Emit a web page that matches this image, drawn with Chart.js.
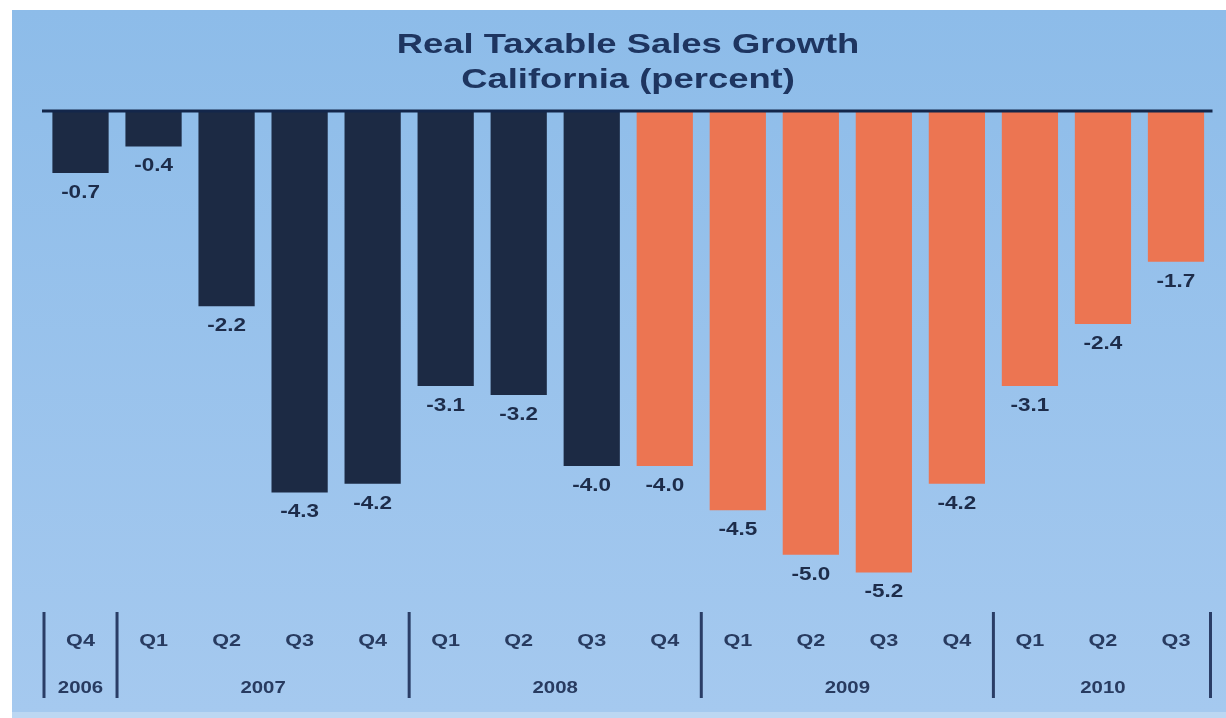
<!DOCTYPE html>
<html>
<head>
<meta charset="utf-8">
<title>Real Taxable Sales Growth</title>
<script src="https://cdn.jsdelivr.net/npm/chart.js@4"></script>
<style>
  html, body { margin: 0; padding: 0; background: #fff; }
  canvas { display: block; }
</style>
</head>
<body>
<canvas id="chart" width="1226" height="718"></canvas>
<script>
// quarters along the x axis, oldest first
const quarters = ['Q4','Q1','Q2','Q3','Q4','Q1','Q2','Q3','Q4','Q1','Q2','Q3','Q4','Q1','Q2','Q3'];
const growth   = [-0.7,-0.4,-2.2,-4.3,-4.2,-3.1,-3.2,-4.0,-4.0,-4.5,-5.0,-5.2,-4.2,-3.1,-2.4,-1.7];

// year groups under the quarter labels (first and last bar index of each)
const years     = ['2006','2007','2008','2009','2010'];
const yearFirst = [0, 1, 5, 9, 13];
const yearLast  = [0, 4, 8, 12, 15];

const titleLines = ['Real Taxable Sales Growth', 'California (percent)'];

// bars from index 8 on are drawn orange
const orangeFrom = 8;

const NAVY = '#1c2a44';
const ORANGE = '#ec7552';
const TEXT = '#1e3560';

// draws text stretched horizontally like the original scan
function wideText(ctx, txt, x, y, sx) {
  ctx.save();
  ctx.translate(x, y);
  ctx.scale(sx, 1);
  ctx.fillText(txt, 0, 0);
  ctx.restore();
}

const panelPlugin = {
  id: 'panel',
  beforeDraw(chart) {
    const ctx = chart.ctx;
    const g = ctx.createLinearGradient(0, 10, 0, 712);
    g.addColorStop(0, '#8dbce9');
    g.addColorStop(1, '#a5c9ef');
    ctx.save();
    ctx.fillStyle = '#bcd7f2';
    ctx.fillRect(12, 712, 1214, 6);
    ctx.fillStyle = g;
    ctx.fillRect(12, 10, 1214, 702);
    ctx.fillStyle = TEXT;
    ctx.textAlign = 'center';
    ctx.textBaseline = 'middle';
    ctx.font = 'bold 28px "Liberation Sans", Arial, sans-serif';
    wideText(ctx, titleLines[0], 628, 45, 1.3);
    wideText(ctx, titleLines[1], 628, 80, 1.3);
    ctx.restore();
  },
  afterDatasetsDraw(chart) {
    const ctx = chart.ctx;
    const x = chart.scales.x, y = chart.scales.y;
    const area = chart.chartArea;
    const zero = y.getPixelForValue(0);
    const step = x.getPixelForValue(1) - x.getPixelForValue(0);
    ctx.save();

    // zero line
    ctx.strokeStyle = '#13264a';
    ctx.lineWidth = 3;
    ctx.beginPath();
    ctx.moveTo(area.left - 2, zero);
    ctx.lineTo(area.right, zero);
    ctx.stroke();

    // value labels under each bar
    ctx.fillStyle = '#1d2c4a';
    ctx.textAlign = 'center';
    ctx.textBaseline = 'middle';
    ctx.font = 'bold 18px "Liberation Sans", Arial, sans-serif';
    chart.getDatasetMeta(0).data.forEach((bar, i) => {
      wideText(ctx, growth[i].toFixed(1), bar.x, bar.y + 20, 1.25);
    });

    // quarter labels
    ctx.fillStyle = '#283b60';
    ctx.font = 'bold 16px "Liberation Sans", Arial, sans-serif';
    quarters.forEach((q, i) => {
      wideText(ctx, q, x.getPixelForValue(i), 642, 1.35);
    });

    // year labels and separators
    ctx.strokeStyle = '#2a3d66';
    ctx.lineWidth = 3;
    ctx.font = 'bold 17px "Liberation Sans", Arial, sans-serif';
    years.forEach((yr, k) => {
      const cx = (x.getPixelForValue(yearFirst[k]) + x.getPixelForValue(yearLast[k])) / 2;
      wideText(ctx, yr, cx, 688, 1.2);
      const sepX = x.getPixelForValue(yearFirst[k]) - step / 2;
      ctx.beginPath();
      ctx.moveTo(sepX, 612);
      ctx.lineTo(sepX, 698);
      ctx.stroke();
    });
    const endX = x.getPixelForValue(quarters.length - 1) + step / 2 - 2;
    ctx.beginPath();
    ctx.moveTo(endX, 612);
    ctx.lineTo(endX, 698);
    ctx.stroke();

    ctx.restore();
  }
};

new Chart(document.getElementById('chart'), {
  type: 'bar',
  data: {
    labels: quarters.map((q, i) => q + '-' + i),
    datasets: [{
      data: growth,
      backgroundColor: growth.map((v, i) => i >= orangeFrom ? ORANGE : NAVY),
      borderWidth: 0,
      barPercentage: 0.77,
      categoryPercentage: 1
    }]
  },
  options: {
    responsive: false,
    animation: false,
    layout: { padding: { left: 44, right: 13.5, top: 111, bottom: 119 } },
    plugins: {
      legend: { display: false },
      tooltip: { enabled: false },
      title: { display: false }
    },
    scales: {
      x: { display: false },
      y: { display: false, min: -5.5, max: 0 }
    }
  },
  plugins: [panelPlugin]
});
</script>
</body>
</html>
